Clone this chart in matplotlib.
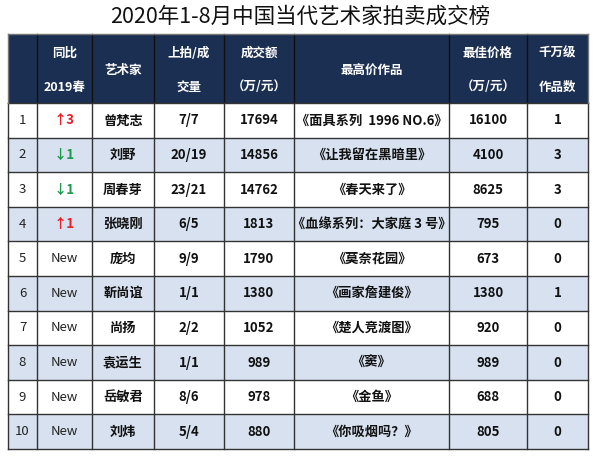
import matplotlib
matplotlib.use('Agg')
import matplotlib.pyplot as plt
from matplotlib.patches import Rectangle

plt.rcParams['font.family'] = ['Noto Sans CJK SC', 'DejaVu Sans']

# table data
title = '2020年1-8月中国当代艺术家拍卖成交榜'
headers_top = ['', '同比', '', '上拍/成', '成交额', '', '最佳价格', '千万级']
headers_mid = ['', '', '艺术家', '', '', '最高价作品', '', '']
headers_bot = ['', '2019春', '', '交量', '（万/元）', '', '（万/元）', '作品数']
ranks = ['1', '2', '3', '4', '5', '6', '7', '8', '9', '10']
change = ['↑3', '↓1', '↓1', '↑1', 'New', 'New', 'New', 'New', 'New', 'New']
artists = ['曾梵志', '刘野', '周春芽', '张晓刚', '庞均', '靳尚谊', '尚扬', '袁运生', '岳敏君', '刘炜']
lots = ['7/7', '20/19', '23/21', '6/5', '9/9', '1/1', '2/2', '1/1', '8/6', '5/4']
turnover = [17694, 14856, 14762, 1813, 1790, 1380, 1052, 989, 978, 880]
top_work = ['《面具系列  1996 NO.6》', '《让我留在黑暗里》', '《春天来了》', '《血缘系列：大家庭 3 号》',
            '《莫奈花园》', '《画家詹建俊》', '《楚人竞渡图》', '《窦》', '《金鱼》', '《你吸烟吗？》']
best_price = [16100, 4100, 8625, 795, 673, 1380, 920, 989, 688, 805]
over_10m = [1, 3, 3, 0, 0, 1, 0, 0, 0, 0]

# layout (pixels)
col_x = [8, 37, 92, 154, 224, 294, 449, 527, 588]
head_top, head_bot = 34, 103
row_h = (449 - 103) / 10

fig = plt.figure(figsize=(6.0, 4.61), dpi=100)
ax = fig.add_axes([0, 0, 1, 1])
ax.set_xlim(0, 600)
ax.set_ylim(461, 0)
ax.axis('off')

ax.text(300, 17, title, ha='center', va='center', fontsize=15.5, color='#111111')

# header
ax.add_patch(Rectangle((col_x[0], head_top), col_x[-1] - col_x[0], head_bot - head_top,
                       facecolor='#1b2f52', edgecolor='none'))
for i in range(len(col_x) - 1):
    cx = (col_x[i] + col_x[i + 1]) / 2
    ax.text(cx, 53, headers_top[i], ha='center', va='center', fontsize=9,
            color='white', fontweight='bold')
    ax.text(cx, 70, headers_mid[i], ha='center', va='center', fontsize=9,
            color='white', fontweight='bold')
    ax.text(cx, 87, headers_bot[i], ha='center', va='center', fontsize=9,
            color='white', fontweight='bold')
for x in col_x[1:-1]:
    ax.plot([x, x], [head_top, head_bot], color='#111111', lw=1.0)

# body
for r in range(len(ranks)):
    y0 = head_bot + r * row_h
    yc = y0 + row_h / 2
    fc = 'white' if r % 2 == 0 else '#d7e1ef'
    ax.add_patch(Rectangle((col_x[0], y0), col_x[-1] - col_x[0], row_h, facecolor=fc, edgecolor='none'))
    if change[r].startswith('↑'):
        ccol, cw = '#e8202a', 'bold'
    elif change[r].startswith('↓'):
        ccol, cw = '#1a9a4a', 'bold'
    else:
        ccol, cw = '#222222', 'normal'
    cells = [(ranks[r], '#222222', 'normal'), (change[r], ccol, cw),
             (artists[r], '#111111', 'bold'), (lots[r], '#111111', 'bold'),
             (str(turnover[r]), '#111111', 'bold'), (top_work[r], '#111111', 'bold'),
             (str(best_price[r]), '#111111', 'bold'), (str(over_10m[r]), '#111111', 'bold')]
    for i, (t, c, w) in enumerate(cells):
        cx = (col_x[i] + col_x[i + 1]) / 2
        ax.text(cx, yc, t, ha='center', va='center', fontsize=9.5, color=c, fontweight=w)

# grid lines in body
for r in range(len(ranks) + 1):
    y = head_bot + r * row_h
    ax.plot([col_x[0], col_x[-1]], [y, y], color='#333333', lw=1.0)
for x in col_x:
    ax.plot([x, x], [head_bot, head_bot + 10 * row_h], color='#333333', lw=1.0)
ax.plot([col_x[0], col_x[-1]], [head_top, head_top], color='#777777', lw=1.0)
ax.plot([col_x[0], col_x[0]], [head_top, head_bot], color='#777777', lw=1.0)
ax.plot([col_x[-1], col_x[-1]], [head_top, head_bot], color='#777777', lw=1.0)

fig.savefig('out.png', dpi=100)
